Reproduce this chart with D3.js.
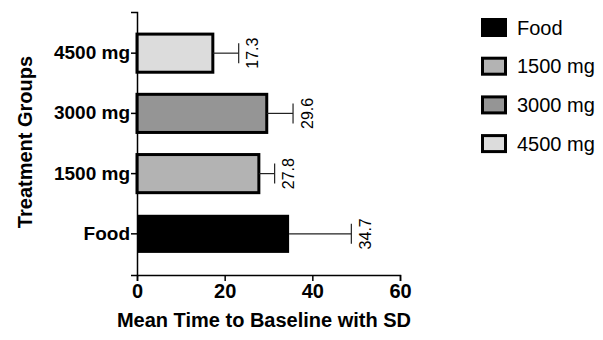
<!DOCTYPE html>
<html>
<head>
<meta charset="utf-8">
<script src="https://cdn.jsdelivr.net/npm/d3@7"></script>
<style>
  body { margin: 0; background: #fff; }
  text { font-family: "Liberation Sans", Arial, sans-serif; }
</style>
</head>
<body>
<div id="chart"></div>
<script>
// data, top to bottom as drawn
var groups = ["4500 mg", "3000 mg", "1500 mg", "Food"];
var means = [17.3, 29.6, 27.8, 34.7];
var sds = [5.9, 6.0, 3.6, 14.2];
var fills = ["#dcdcdc", "#959595", "#b3b3b3", "#000000"];
var legendOrder = ["Food", "1500 mg", "3000 mg", "4500 mg"];
var xTicks = [0, 20, 40, 60];

var width = 603;
var height = 340;

var svg = d3
  .select("#chart")
  .append("svg")
  .attr("width", width)
  .attr("height", height);

var x = d3.scaleLinear().domain([0, 60]).range([137, 400]);

var y = d3
  .scaleBand()
  .domain(groups)
  .range([12, 275])
  .paddingInner(0.367)
  .paddingOuter(0.367);

var color = d3.scaleOrdinal().domain(groups).range(fills);

// bars
svg
  .selectAll(".bar")
  .data(groups)
  .enter()
  .append("rect")
  .attr("class", "bar")
  .attr("x", x(0))
  .attr("y", function (d) { return y(d); })
  .attr("width", function (d, i) { return x(means[i]) - x(0); })
  .attr("height", y.bandwidth())
  .attr("fill", function (d) { return color(d); })
  .attr("stroke", "#000")
  .attr("stroke-width", function (d) { return d === "Food" ? 0 : 3; });

// error bars
var err = svg
  .selectAll(".err")
  .data(groups)
  .enter()
  .append("g")
  .attr("class", "err")
  .attr("stroke", "#222")
  .attr("stroke-width", 1.2);

err
  .append("line")
  .attr("x1", function (d, i) { return x(means[i]); })
  .attr("x2", function (d, i) { return x(means[i] + sds[i]); })
  .attr("y1", function (d) { return y(d) + y.bandwidth() / 2; })
  .attr("y2", function (d) { return y(d) + y.bandwidth() / 2; });

err
  .append("line")
  .attr("x1", function (d, i) { return x(means[i] + sds[i]); })
  .attr("x2", function (d, i) { return x(means[i] + sds[i]); })
  .attr("y1", function (d) { return y(d) + y.bandwidth() / 2 - 10; })
  .attr("y2", function (d) { return y(d) + y.bandwidth() / 2 + 10; });

// value labels, rotated
svg
  .selectAll(".val")
  .data(groups)
  .enter()
  .append("text")
  .attr("class", "val")
  .attr("transform", function (d, i) {
    return "translate(" + (x(means[i] + sds[i]) + 14) + "," + (y(d) + y.bandwidth() / 2) + ") rotate(-90)";
  })
  .attr("text-anchor", "middle")
  .attr("dy", "0.35em")
  .attr("font-size", 16)
  .attr("fill", "#000")
  .text(function (d, i) { return means[i].toFixed(1); });

// axes
var xAxis = svg
  .append("g")
  .attr("transform", "translate(0,275)")
  .call(d3.axisBottom(x).tickValues(xTicks).tickSize(6).tickPadding(3));

var yAxis = svg
  .append("g")
  .attr("transform", "translate(137,0)")
  .call(d3.axisLeft(y).tickSize(6).tickPadding(1));

[xAxis, yAxis].forEach(function (a) {
  a.select(".domain").attr("stroke", "#000").attr("stroke-width", 1.5);
  a.selectAll(".tick line").attr("stroke", "#000").attr("stroke-width", 1.5);
  a.selectAll("text")
    .attr("font-size", 19)
    .attr("font-weight", "bold")
    .attr("fill", "#000")
    .style("font-family", "'Liberation Sans', Arial, sans-serif");
});
xAxis.selectAll("text").attr("font-size", 20);

// axis titles
svg
  .append("text")
  .attr("x", 264)
  .attr("y", 327)
  .attr("text-anchor", "middle")
  .attr("font-size", 20)
  .attr("font-weight", "bold")
  .text("Mean Time to Baseline with SD");

svg
  .append("text")
  .attr("transform", "translate(32,142) rotate(-90)")
  .attr("text-anchor", "middle")
  .attr("font-size", 20)
  .attr("font-weight", "bold")
  .text("Treatment Groups");

// legend
var legend = svg
  .selectAll(".legend")
  .data(legendOrder)
  .enter()
  .append("g")
  .attr("class", "legend")
  .attr("transform", function (d, i) { return "translate(481," + (18 + i * 38.7) + ")"; });

legend
  .append("rect")
  .attr("x", function (d) { return d === "Food" ? 0 : 1.5; })
  .attr("y", function (d) { return d === "Food" ? 0 : 1.5; })
  .attr("width", function (d) { return d === "Food" ? 26 : 23; })
  .attr("height", function (d) { return d === "Food" ? 19 : 16; })
  .attr("fill", function (d) { return color(d); })
  .attr("stroke", "#000")
  .attr("stroke-width", function (d) { return d === "Food" ? 0 : 3; });

legend
  .append("text")
  .attr("x", 36)
  .attr("y", 9.5)
  .attr("dy", "0.35em")
  .attr("font-size", 20)
  .attr("fill", "#000")
  .text(function (d) { return d; });
</script>
</body>
</html>
